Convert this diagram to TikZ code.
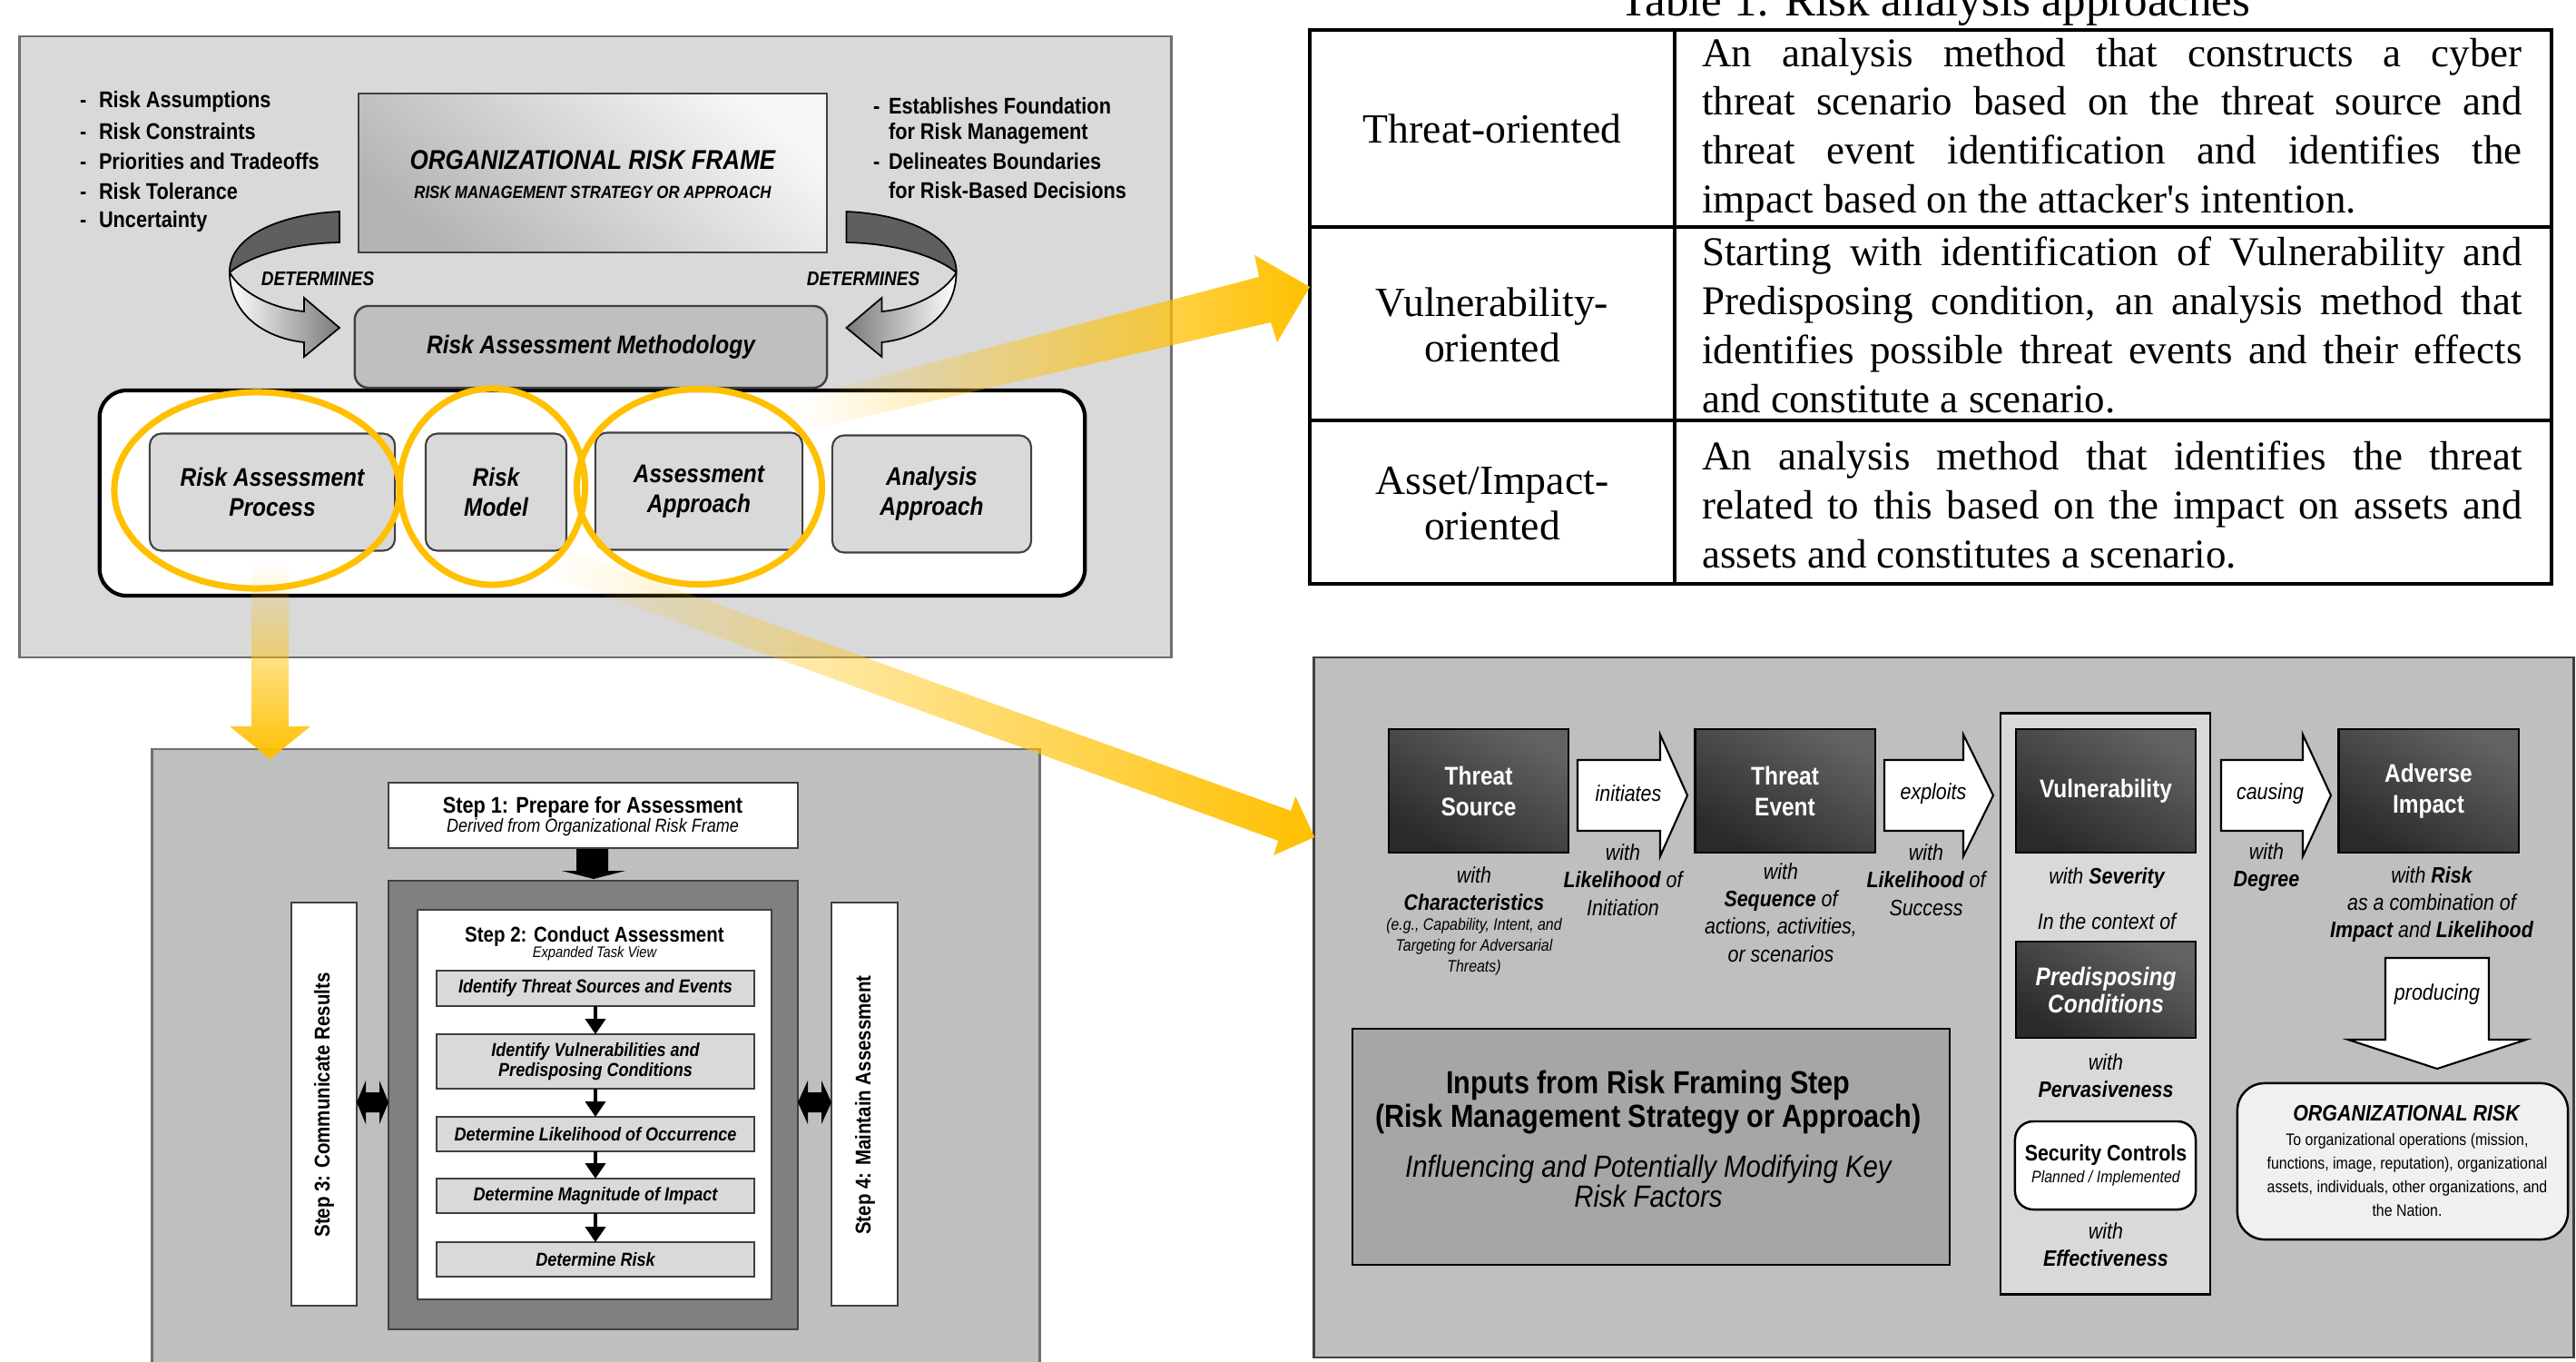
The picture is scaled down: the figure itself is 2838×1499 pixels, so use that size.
\documentclass[tikz,border=0pt]{standalone}
\usepackage{fontspec}
\setmainfont{Liberation Sans}
\newfontfamily\nf[FakeStretch=0.87]{Liberation Sans}
\newfontfamily\tf{Liberation Serif}
\usetikzlibrary{shapes.geometric,arrows.meta,fadings}
\newcommand\fsz[2]{\fontsize{#1}{#2}\selectfont}
\definecolor{ylw}{HTML}{FFC000}
\definecolor{pnlA}{HTML}{D9D9D9}
\definecolor{pnlB}{HTML}{BFBFBF}
\definecolor{dkA}{HTML}{626262}
\definecolor{dkB}{HTML}{2A2A2A}
\definecolor{brd}{HTML}{404040}
\definecolor{pbrd}{HTML}{6E6E6E}
\definecolor{frm}{HTML}{808080}
\definecolor{inp}{HTML}{A6A6A6}
\definecolor{orgr}{HTML}{F0F0F0}
\definecolor{rib}{HTML}{5F5F5F}
\definecolor{ribB}{HTML}{7A7A7A}
\definecolor{orgL}{HTML}{F6F6F6}
\definecolor{orgD}{HTML}{B4B4B4}
\tikzfading[name=fadeup, top color=transparent!100, middle color=transparent!0, bottom color=transparent!0]
\tikzfading[name=fadeeast, left color=transparent!100, right color=transparent!0]
\tikzfading[name=fadeeastB, left color=transparent!100, middle color=transparent!15, right color=transparent!0]
\begin{document}
\begin{tikzpicture}[x=0.01cm,y=-0.01cm,
  every node/.style={inner sep=0pt, outer sep=0pt},
  nb/.style={font=\nf\bfseries\fsz{7.1}{8.5}},
  subbox/.style={draw=brd, fill=pnlA, rounded corners=0.13cm, line width=0.6pt,
     font=\nf\bfseries\itshape\fsz{8}{9.4}, align=center, minimum height=1.29cm},
  yell/.style={ellipse, draw=ylw, line width=2pt},
  taskbox/.style={draw=brd, fill=pnlA, line width=0.6pt, minimum width=3.5cm,
     font=\nf\bfseries\itshape\fsz{5.9}{6.1}, align=center},
  tar/.style={line width=0.9pt, -{Triangle[width=6.3pt,length=4.8pt]}},
  dk/.style={draw=black, line width=0.6pt, top color=dkA, bottom color=dkB, shading angle=-30,
     text=white, font=\nf\bfseries\fsz{8}{9.7}, align=center, minimum width=1.98cm, minimum height=1.36cm},
  lab/.style={font=\nf\itshape\fsz{7}{8.6}, align=center},
  barr/.style={fill=white, draw=black, line width=0.6pt},
  tcell/.style={font=\tf\fsz{12.8}{15.3}, text width=9.03cm, align=justify},
  lcell/.style={font=\tf\fsz{13}{14.2}, align=center}
]
\useasboundingbox (0,0) rectangle (2838,1499);

% ================= TOP-LEFT PANEL =================
\node[draw=pbrd, fill=pnlA, line width=0.7pt, minimum width=12.68cm, minimum height=6.84cm] (tlp) at (656,382) {};

\node[draw=brd, line width=0.7pt, top color=orgL, bottom color=orgD, shading angle=-40,
      minimum width=5.16cm, minimum height=1.75cm] (orgbox) at (653,190.5) {};
\node[font=\nf\bfseries\itshape\fsz{8.5}{10}] (orgT) at (653,176) {ORGANIZATIONAL RISK FRAME};
\node[font=\nf\bfseries\itshape\fsz{5.5}{6.5}] (orgS) at (653,212) {RISK MANAGEMENT STRATEGY OR APPROACH};

% bullets
\node[nb, anchor=west] (bl1) at (88,112) {\makebox[0.21cm][l]{-}Risk Assumptions};
\node[nb, anchor=west] (bl2) at (88,145) {\makebox[0.21cm][l]{-}Risk Constraints};
\node[nb, anchor=west] (bl3) at (88,178) {\makebox[0.21cm][l]{-}Priorities and Tradeoffs};
\node[nb, anchor=west] (bl4) at (88,211) {\makebox[0.21cm][l]{-}Risk Tolerance};
\node[nb, anchor=west] (bl5) at (88,244) {\makebox[0.21cm][l]{-}Uncertainty};
\node[nb, anchor=west] (br1) at (962,117) {\makebox[0.17cm][l]{-}Establishes Foundation};
\node[nb, anchor=west] (br2) at (962,147) {\makebox[0.17cm][l]{}for Risk Management};
\node[nb, anchor=west] (br3) at (962,178) {\makebox[0.17cm][l]{-}Delineates Boundaries};
\node[nb, anchor=west] (br4) at (962,210) {\makebox[0.17cm][l]{}for Risk-Based Decisions};

% curved ribbon arrows
\filldraw[fill=rib, draw=black, line width=0.5pt] (374,233) .. controls (305,236) and (252,262) .. (253,300)
   .. controls (275,282) and (320,268) .. (374,267) -- cycle;
\shadedraw[left color=white, right color=ribB, draw=black, line width=0.5pt] (253,300) .. controls (253,345) and (290,372) .. (335,377)
   -- (335,393) -- (374,361) -- (335,328) -- (335,343) .. controls (300,340) and (265,322) .. (253,300) -- cycle;
\filldraw[fill=rib, draw=black, line width=0.5pt] (932.5,233) .. controls (1001.5,236) and (1054.5,262) .. (1053.5,300)
   .. controls (1031.5,282) and (986.5,268) .. (932.5,267) -- cycle;
\shadedraw[left color=ribB, right color=white, draw=black, line width=0.5pt] (1053.5,300) .. controls (1053.5,345) and (1016.5,372) .. (971.5,377)
   -- (971.5,393) -- (932.5,361) -- (971.5,328) -- (971.5,343) .. controls (1006.5,340) and (1041.5,322) .. (1053.5,300) -- cycle;
\node[font=\nf\bfseries\itshape\fsz{6.2}{7}] (detL) at (350,307) {DETERMINES};
\node[font=\nf\bfseries\itshape\fsz{6.2}{7}] (detR) at (951,307) {DETERMINES};

% white container and boxes
\node[draw=black, line width=1.2pt, fill=white, rounded corners=0.3cm, minimum width=10.85cm, minimum height=2.26cm] (wb) at (652.5,543) {};
\node[draw=brd, fill=pnlB, rounded corners=0.15cm, line width=0.7pt, minimum width=5.2cm, minimum height=0.9cm,
      font=\nf\bfseries\itshape\fsz{8}{9}] (ram) at (651,382) {Risk Assessment Methodology};
\node[subbox, minimum width=2.7cm] (rap) at (300,542) {Risk Assessment\\Process};
\node[subbox, minimum width=1.55cm] (rmd) at (546.5,542) {Risk\\Model};
\node[subbox, minimum width=2.28cm] (aap) at (770,541) {Assessment\\Approach};
\node[subbox, minimum width=2.19cm] (anp) at (1026.5,544) {Analysis\\Approach};

% ================= TABLE =================
\node[font=\tf\fsz{14.5}{16}, anchor=base] (cap) at (2132,17) {Table 1: Risk analysis approaches};
\draw[line width=1.3pt] (1443,33) rectangle (2811,643);
\draw[line width=1.3pt] (1443,250) -- (2811,250);
\draw[line width=1.3pt] (1443,463) -- (2811,463);
\draw[line width=0.9pt] (1845,33) -- (1845,643);
\node[lcell] (l1) at (1644,141.5) {Threat-oriented};
\node[lcell] (l2) at (1644,358) {Vulnerability-\\oriented};
\node[lcell] (l3) at (1644,555) {Asset/Impact-\\oriented};
\node[tcell] (d1) at (2327,143) {\tolerance=10000 An analysis method that constructs a cyber\linebreak threat scenario based on the threat source and\linebreak threat event identification and identifies the\linebreak impact based on the attacker's intention.};
\node[tcell] (d2) at (2327,358) {\tolerance=10000 Starting with identification of Vulnerability and\linebreak Predisposing condition, an analysis method that\linebreak identifies possible threat events and their effects\linebreak and constitute a scenario.};
\node[tcell] (d3) at (2327,556) {\tolerance=10000 An analysis method that identifies the threat\linebreak related to this based on the impact on assets and\linebreak assets and constitutes a scenario.};

% ================= BOTTOM-LEFT PANEL =================
\node[draw=pbrd, fill=pnlB, line width=0.7pt, minimum width=9.77cm, minimum height=6.9cm] (blp) at (656.5,1170) {};
\node[draw=brd, fill=white, line width=0.7pt, minimum width=4.51cm, minimum height=0.72cm] (s1) at (653.5,898) {};
\node[font=\nf\bfseries\fsz{7.1}{8}] (s1a) at (653,889) {Step 1: Prepare for Assessment};
\node[font=\nf\itshape\fsz{5.9}{7}] (s1b) at (653,911) {Derived from Organizational Risk Frame};
\node[draw=brd, fill=frm, line width=0.7pt, minimum width=4.51cm, minimum height=4.94cm] (s2f) at (653.5,1217) {};
\fill[black] (635,935) -- (670,935) -- (670,959) -- (689,959) -- (654,968) -- (619,959) -- (635,959) -- cycle;
\node[draw=brd, fill=white, line width=0.6pt, minimum width=3.9cm, minimum height=4.29cm] (s2i) at (655,1216.5) {};
\node[font=\nf\bfseries\fsz{6.7}{7.5}] (s2a) at (655,1031) {Step 2: Conduct Assessment};
\node[font=\nf\itshape\fsz{4.8}{5.5}] (s2b) at (655,1050) {Expanded Task View};
\node[taskbox, minimum height=0.39cm] (t1) at (656,1088.5) {Identify Threat Sources and Events};
\node[taskbox, minimum height=0.60cm] (t2) at (656,1169) {Identify Vulnerabilities and\\Predisposing Conditions};
\node[taskbox, minimum height=0.38cm] (t3) at (656,1249) {Determine Likelihood of Occurrence};
\node[taskbox, minimum height=0.38cm] (t4) at (656,1317) {Determine Magnitude of Impact};
\node[taskbox, minimum height=0.38cm] (t5) at (656,1387) {Determine Risk};
\draw[tar] (t1.south) -- (t2.north);
\draw[tar] (t2.south) -- (t3.north);
\draw[tar] (t3.south) -- (t4.north);
\draw[tar] (t4.south) -- (t5.north);
\node[draw=brd, fill=white, line width=0.6pt, minimum width=0.72cm, minimum height=4.44cm] (s3) at (357,1216) {};
\node[draw=brd, fill=white, line width=0.6pt, minimum width=0.73cm, minimum height=4.44cm] (s4) at (952.5,1216) {};
\node[rotate=90, font=\nf\bfseries\fsz{6.7}{7.5}] (s3t) at (357,1217) {Step 3: Communicate Results};
\node[rotate=90, font=\nf\bfseries\fsz{6.7}{7.5}] (s4t) at (953,1217) {Step 4: Maintain Assessment};
\fill[black] (393,1214) -- (403,1190) -- (403,1203) -- (418,1203) -- (418,1190) -- (428,1214) -- (418,1238) -- (418,1225) -- (403,1225) -- (403,1238) -- cycle;
\fill[black] (879,1214) -- (890,1190) -- (890,1203) -- (905,1203) -- (905,1190) -- (916,1214) -- (905,1238) -- (905,1225) -- (890,1225) -- (890,1238) -- cycle;

% ================= BOTTOM-RIGHT PANEL =================
\node[draw=brd, fill=pnlB, line width=0.7pt, minimum width=13.87cm, minimum height=7.71cm] (brp) at (2141.5,1109.5) {};
\node[draw=black, fill=pnlA, line width=0.8pt, minimum width=2.31cm, minimum height=6.39cm] (vg) at (2319.5,1105.5) {};
\node[dk] (ts) at (1629,871) {Threat\\Source};
\node[dk] (te) at (1966.5,871) {Threat\\Event};
\node[dk] (vul) at (2320,871) {Vulnerability};
\node[dk] (ai) at (2675.5,871) {Adverse\\Impact};
\node[dk, minimum height=1.06cm, font=\nf\bfseries\itshape\fsz{8}{8.5}] (pc) at (2320,1090) {Predisposing\\Conditions};

\filldraw[barr] (1738,837) -- (1829,837) -- (1829,809) -- (1859,876) -- (1829,943) -- (1829,915) -- (1738,915) -- cycle;
\filldraw[barr] (2076,837) -- (2163,837) -- (2163,809) -- (2196,876) -- (2163,943) -- (2163,915) -- (2076,915) -- cycle;
\filldraw[barr] (2447,837) -- (2537,837) -- (2537,809) -- (2568,876) -- (2537,943) -- (2537,915) -- (2447,915) -- cycle;
\filldraw[barr] (2628,1055) -- (2742,1055) -- (2742,1145) -- (2783,1145) -- (2685,1177) -- (2587,1145) -- (2628,1145) -- cycle;
\node[lab] (initl) at (1794,874) {initiates};
\node[lab] (expll) at (2130,874) {exploits};
\node[lab] (causl) at (2501,874) {causing};
\node[lab] (prodl) at (2685,1095) {producing};

\node[lab] (tsw) at (1624,979) {with\\\textbf{Characteristics}};
\node[font=\nf\itshape\fsz{5.2}{6.5}, align=center] (tse) at (1624,1043) {(e.g., Capability, Intent, and\\Targeting for Adversarial\\Threats)};
\node[lab] (inw) at (1788,969) {with\\\textbf{Likelihood} of\\Initiation};
\node[lab] (tew) at (1962,1005) {with\\\textbf{Sequence} of\\actions, activities,\\or scenarios};
\node[lab] (exw) at (2122,969) {with\\\textbf{Likelihood} of\\Success};
\node[lab] (vsev) at (2321,967) {with \textbf{Severity}};
\node[lab] (vctx) at (2321,1015) {In the context of};
\node[lab] (pcw) at (2320,1185) {with\\\textbf{Pervasiveness}};
\node[draw=black, fill=white, rounded corners=0.2cm, line width=0.7pt, minimum width=1.99cm, minimum height=0.97cm] (sc) at (2319.5,1283.5) {};
\node[font=\nf\bfseries\fsz{7}{8}] (scT) at (2320,1272) {Security Controls};
\node[font=\nf\itshape\fsz{5.2}{6}] (scS) at (2320,1298) {Planned / Implemented};
\node[lab] (scw) at (2320,1371) {with\\\textbf{Effectiveness}};
\node[lab] (caw) at (2497,955) {with\\\textbf{Degree}};
\node[lab] (aiw) at (2679,996) {with \textbf{Risk}\\as a combination of\\\textbf{Impact} and \textbf{Likelihood}};

\node[draw=black, fill=orgr, rounded corners=0.3cm, line width=0.7pt, minimum width=3.64cm, minimum height=1.72cm] (orisk) at (2647,1279) {};
\node[font=\nf\bfseries\itshape\fsz{7}{8}] (orT) at (2651,1226) {ORGANIZATIONAL RISK};
\node[font=\nf\fsz{5.2}{7.4}, align=center] (orB) at (2652,1294) {To organizational operations (mission,\\functions, image, reputation), organizational\\assets, individuals, other organizations, and\\the Nation.};

\node[draw=black, fill=inp, line width=0.7pt, minimum width=6.58cm, minimum height=2.6cm] (inpb) at (1819,1263) {};
\node[font=\nf\bfseries\fsz{10}{10.5}, align=center] (inp1) at (1816,1214) {Inputs from Risk Framing Step\\(Risk Management Strategy or Approach)};
\node[font=\nf\itshape\fsz{9.6}{9.4}, align=center] (inp2) at (1816,1301) {Influencing and Potentially Modifying Key\\Risk Factors};

% ================= YELLOW ARROWS =================
\fill[ylw, path fading=fadeeast] (880,438) -- (1387,305) -- (1382,281) -- (1443,316) -- (1407,377) -- (1400,355) -- (880,476) -- cycle;
\fill[ylw, path fading=fadeeastB] (600,597) -- (1422,893) -- (1427,877) -- (1448,922) -- (1403,942) -- (1408,926) -- (600,632) -- cycle;
\fill[ylw, path fading=fadeup] (277,620) -- (318,620) -- (318,800) -- (342,800) -- (297.5,836) -- (253,800) -- (277,800) -- cycle;

% ellipses
\node[yell, minimum width=3.14cm, minimum height=2.16cm] (e1) at (283,540) {};
\node[yell, minimum width=2.04cm, minimum height=2.16cm] (e2) at (542.5,536) {};
\node[yell, minimum width=2.7cm, minimum height=2.15cm] (e3) at (770.5,536) {};
\end{tikzpicture}
\end{document}
